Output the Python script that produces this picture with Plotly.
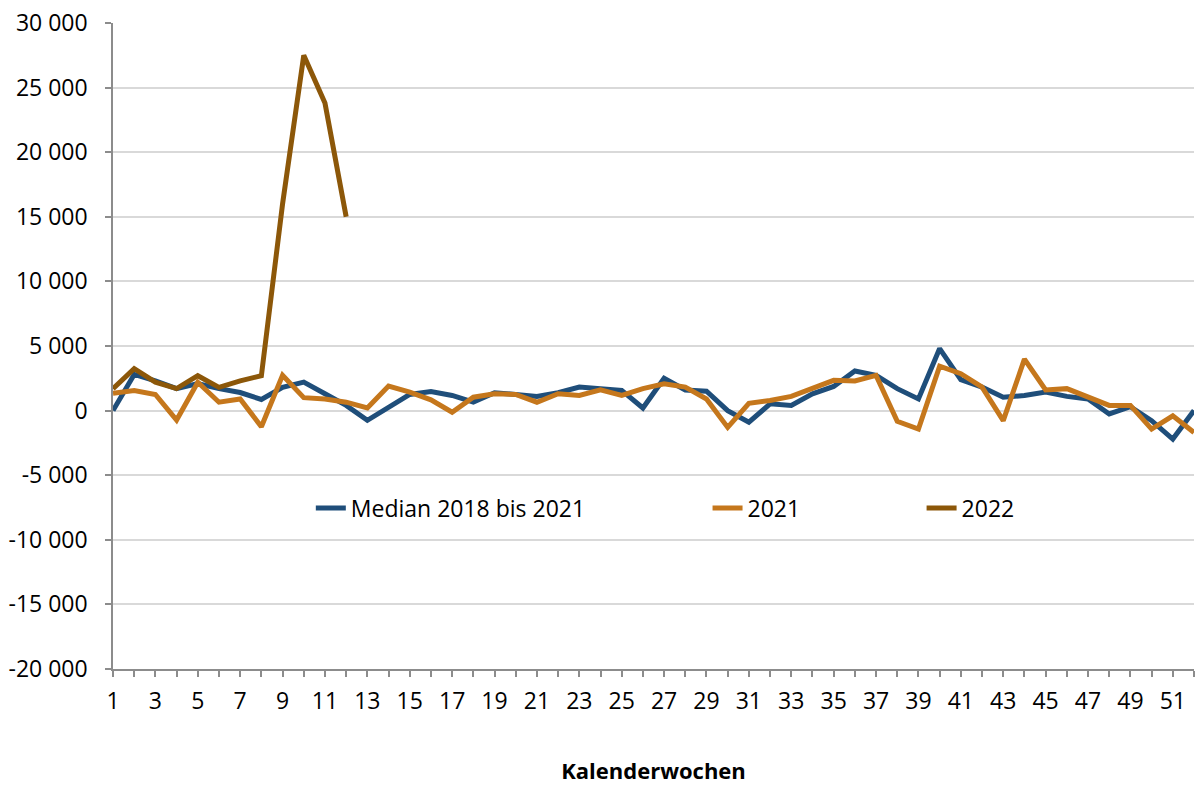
import plotly.graph_objects as go

weeks = list(range(1, 53))

median_2018_2021 = [0, 2800, 2300, 1700, 2100, 1700, 1400, 860, 1800, 2200,
                    1300, 400, -750, 300, 1250, 1480, 1170, 650, 1380, 1250,
                    1100, 1380, 1820, 1700, 1560, 200, 2500, 1600, 1500, 0,
                    -900, 520, 400, 1300, 1870, 3070, 2730, 1700, 900, 4800,
                    2400, 1820, 1040, 1170, 1430, 1100, 900, -260, 300, -780,
                    -2200, 0]

y2021 = [1350, 1560, 1250, -730, 2200, 650, 900, -1250, 2730, 1000,
         900, 650, 200, 1900, 1430, 830, -130, 1040, 1300, 1250,
         650, 1300, 1170, 1600, 1170, 1700, 2080, 1820, 900, -1300,
         570, 780, 1100, 1700, 2340, 2300, 2730, -830, -1430, 3440,
         2860, 1820, -780, 3980, 1600, 1700, 1100, 400, 400, -1430,
         -400, -1700]

weeks_2022 = list(range(1, 13))
y2022 = [1700, 3250, 2200, 1700, 2700, 1800, 2300, 2700, 16000, 27500, 23800, 15000]

y_ticks = [-20000, -15000, -10000, -5000, 0, 5000, 10000, 15000, 20000, 25000, 30000]
y_tick_labels = ["-20 000", "-15 000", "-10 000", "-5 000", "0", "5 000",
                 "10 000", "15 000", "20 000", "25 000", "30 000"]
x_tick_labels = [str(w) if w % 2 == 1 else "" for w in weeks]

names = ["Median 2018 bis 2021", "2021", "2022"]
colors = ["#1F4E7A", "#C5771C", "#8C5709"]

FONT = "Open Sans"
FS = 23

fig = go.Figure()
fig.add_trace(go.Scatter(x=weeks, y=median_2018_2021, mode="lines", name=names[0],
                         line=dict(color=colors[0], width=5), legend="legend"))
fig.add_trace(go.Scatter(x=weeks, y=y2021, mode="lines", name=names[1],
                         line=dict(color=colors[1], width=5), legend="legend2"))
fig.add_trace(go.Scatter(x=weeks_2022, y=y2022, mode="lines", name=names[2],
                         line=dict(color=colors[2], width=5), legend="legend3"))

leg_common = dict(orientation="h", yanchor="middle", xanchor="left",
                  bgcolor="rgba(0,0,0,0)", font=dict(family=FONT, size=FS, color="black"))

fig.update_layout(
    width=1195, height=785,
    margin=dict(l=113, r=1, t=23, b=116),
    paper_bgcolor="white", plot_bgcolor="white",
    font=dict(family=FONT, size=FS, color="black"),
    showlegend=True,
    legend=dict(x=0.183, y=0.249, **leg_common),
    legend2=dict(x=0.550, y=0.249, **leg_common),
    legend3=dict(x=0.748, y=0.249, **leg_common),
    xaxis=dict(
        range=[1, 52], tickmode="array", tickvals=weeks, ticktext=x_tick_labels,
        showgrid=False, zeroline=False, showline=True, linecolor="#8C8C8C", linewidth=1.5,
        ticks="outside", ticklen=6, tickcolor="#8C8C8C", tickwidth=1.5,
        ticklabelstandoff=5,
        title=dict(text="<b>Kalenderwochen</b>", font=dict(family=FONT, size=22), standoff=49),
    ),
    yaxis=dict(
        range=[-20000, 30000], tickmode="array", tickvals=y_ticks, ticktext=y_tick_labels,
        showgrid=True, gridcolor="#D9D9D9", gridwidth=1.5, zeroline=False,
        showline=True, linecolor="#8C8C8C", linewidth=1.5,
        ticks="outside", ticklen=6, tickcolor="#8C8C8C", tickwidth=1.5,
        ticklabelstandoff=13,
    ),
)

fig.write_html("out.html", config={"displayModeBar": False},
               post_script="document.body.style.margin='0';")
